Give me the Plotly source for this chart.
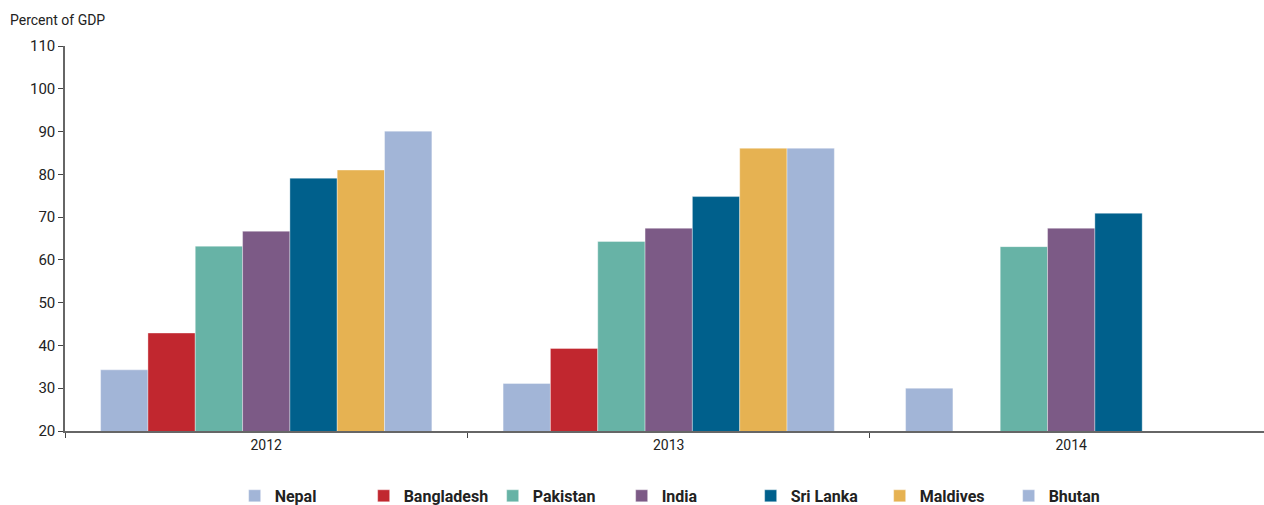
import plotly.graph_objects as go

years = ["2012", "2013", "2014"]
countries = ["Nepal", "Bangladesh", "Pakistan", "India", "Sri Lanka", "Maldives", "Bhutan"]
nepal = [34.3, 31.1, 30.0]
bangladesh = [42.9, 39.3, None]
pakistan = [63.2, 64.3, 63.1]
india = [66.7, 67.4, 67.4]
sri_lanka = [79.1, 74.8, 70.9]
maldives = [81.0, 86.1, None]
bhutan = [90.1, 86.1, None]
series = [nepal, bangladesh, pakistan, india, sri_lanka, maldives, bhutan]
colors = ["#A2B5D7", "#C1272F", "#67B3A6", "#7C5A86", "#00608C", "#E6B252", "#A2B5D7"]
y_ticks = [20, 30, 40, 50, 60, 70, 80, 90, 100, 110]

FONT = "Roboto, Liberation Sans, sans-serif"

fig = go.Figure()
for name, vals, col in zip(countries, series, colors):
    fig.add_trace(go.Bar(
        x=years, y=vals, name=name,
        marker=dict(color=col, line=dict(width=0.6, color="rgba(255,255,255,0.6)")),
    ))

fig.update_layout(
    barmode="group",
    bargap=0.177,
    bargroupgap=0,
    width=1264, height=505,
    margin=dict(l=65, r=0, t=46, b=74, autoexpand=False),
    plot_bgcolor="white", paper_bgcolor="white",
    font=dict(family=FONT, size=14, color="#222"),
    showlegend=True,
    legend=dict(
        orientation="h", yref="container", y=0.018, yanchor="middle",
        xref="paper", x=0.1415, xanchor="left",
        entrywidth=84, entrywidthmode="pixels",
        font=dict(family=FONT, size=16, color="#222", weight="bold"),
        itemclick=False, traceorder="normal",
    ),
    annotations=[dict(
        text="Percent of GDP", xref="paper", yref="paper",
        x=-0.0475, y=1.0675, xanchor="left", yanchor="middle",
        showarrow=False, font=dict(family=FONT, size=14, color="#222"),
    )],
)
fig.update_xaxes(
    type="category", range=[-0.5, 2.479], automargin=False,
    showline=True, linecolor="#666", linewidth=1.5,
    ticks="outside", tickson="boundaries", ticklen=5, tickcolor="#444",
    showgrid=False, tickfont=dict(size=14),
)
fig.update_yaxes(
    range=[20, 110], tickvals=y_ticks, automargin=False,
    showline=True, linecolor="#666", linewidth=1.5,
    ticks="outside", ticklen=5, tickcolor="#444",
    showgrid=False, zeroline=False, tickfont=dict(size=15),
)
fig.write_html(
    "out.html",
    config={"displayModeBar": False},
    post_script="document.body.style.margin='0';document.body.style.overflow='hidden';",
)
